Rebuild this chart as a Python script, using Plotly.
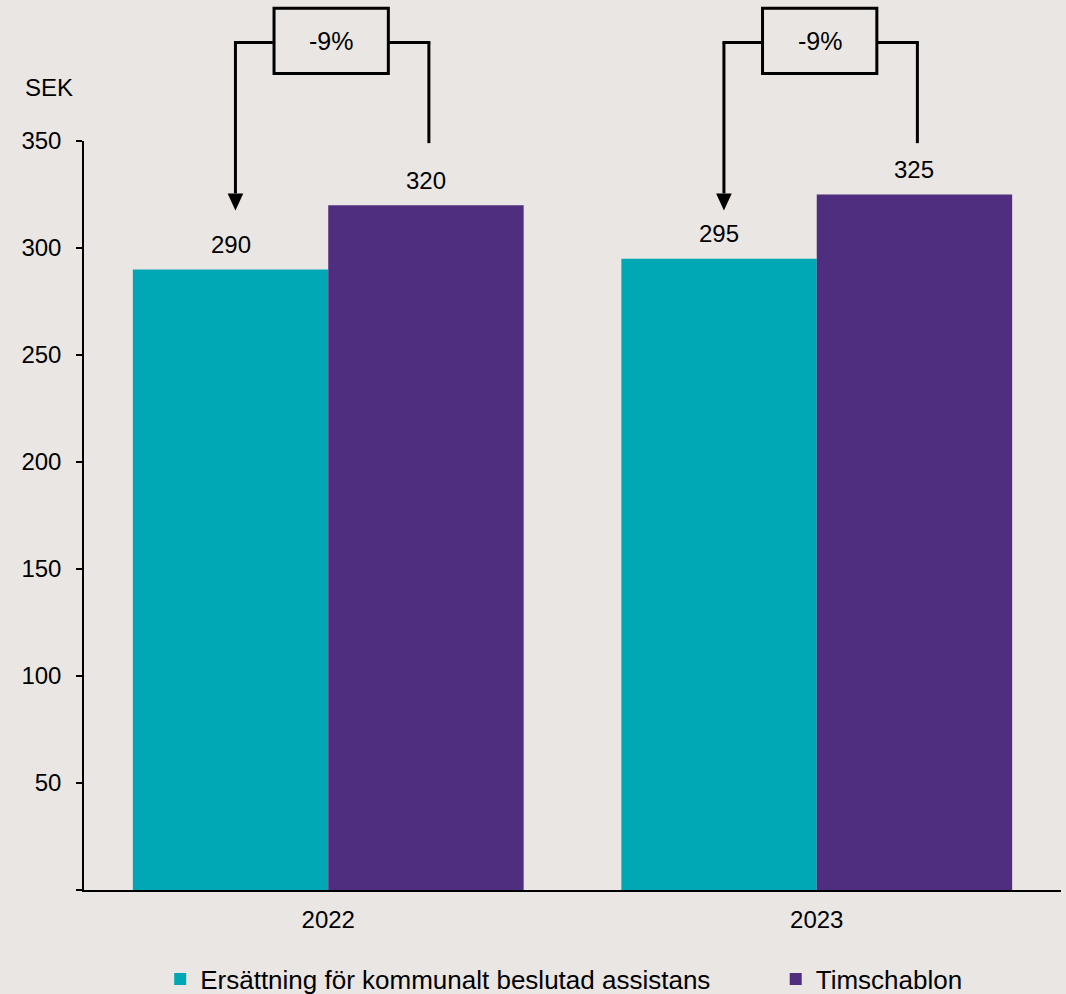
import plotly.graph_objects as go

years = ["2022", "2023"]
series_names = ["Ersättning för kommunalt beslutad assistans", "Timschablon"]
ersattning = [290, 295]
timschablon = [320, 325]
diff_labels = ["-9%", "-9%"]
y_tickvals = [0, 50, 100, 150, 200, 250, 300, 350]
y_ticktext = ["", "50", "100", "150", "200", "250", "300", "350"]

TEAL = "#00A8B5"
PURPLE = "#4F2D7F"
BG = "#EAE6E3"
FONT = "Liberation Sans, Arial, sans-serif"

fig = go.Figure()
fig.add_trace(go.Bar(x=years, y=ersattning, name=series_names[0], marker_color=TEAL,
                     marker_line_width=0, legend="legend"))
fig.add_trace(go.Bar(x=years, y=timschablon, name=series_names[1], marker_color=PURPLE,
                     marker_line_width=0, legend="legend2"))

YMAX = 350.0
annotations = []
shapes = []
for i, yr in enumerate(years):
    # value labels
    for off, val in ((-0.2, ersattning[i]), (0.2, timschablon[i])):
        annotations.append(dict(x=i + off, y=val, xref="x", yref="y", text=str(val),
                                showarrow=False, yanchor="middle", yshift=25,
                                font=dict(size=24, color="black", family=FONT)))
    # bracket (y in data-value terms, converted to paper fraction)
    xl, xr = i - 0.19, i + 0.206
    bl, br = i - 0.111, i + 0.123
    y_line = 396 / YMAX
    y_tip = 317.5 / YMAX
    y_head = 325.5 / YMAX
    y_rbot = 349 / YMAX
    y_btop = 412 / YMAX
    y_bbot = 381.5 / YMAX
    lw = 3
    ln = dict(color="black", width=lw)
    shapes += [
        dict(type="line", xref="x", yref="paper", x0=xl, x1=xl, y0=y_line, y1=y_head, line=ln),
        dict(type="line", xref="x", yref="paper", x0=xl - 0.003, x1=bl, y0=y_line, y1=y_line, line=ln),
        dict(type="line", xref="x", yref="paper", x0=br, x1=xr + 0.003, y0=y_line, y1=y_line, line=ln),
        dict(type="line", xref="x", yref="paper", x0=xr, x1=xr, y0=y_line, y1=y_rbot, line=ln),
        dict(type="rect", xref="x", yref="paper", x0=bl, x1=br, y0=y_bbot, y1=y_btop, line=ln,
             fillcolor="rgba(0,0,0,0)"),
        dict(type="path", xref="x", yref="paper",
             path=f"M {xl - 0.016} {y_head} L {xl + 0.016} {y_head} L {xl} {y_tip} Z",
             fillcolor="black", line=dict(color="black", width=0)),
    ]
    annotations.append(dict(x=(bl + br) / 2, y=(y_bbot + y_btop) / 2, xref="x", yref="paper",
                            text=diff_labels[i], showarrow=False, xanchor="center",
                            yanchor="middle",
                            font=dict(size=25, color="black", family=FONT)))

annotations.append(dict(x=0, y=1.071, xref="paper", yref="paper", text="SEK", showarrow=False,
                        xanchor="right", xshift=-9, yanchor="middle",
                        font=dict(size=24, color="black", family=FONT)))

legend_style = dict(orientation="h", xanchor="left", y=-0.119, yanchor="middle",
                    font=dict(size=26, color="black", family=FONT), bgcolor="rgba(0,0,0,0)")

fig.update_layout(
    width=1066, height=994,
    margin=dict(l=84, r=5, t=141, b=104, autoexpand=False),
    paper_bgcolor=BG, plot_bgcolor=BG,
    barmode="group", bargap=0.2, bargroupgap=0,
    font=dict(family=FONT, size=24, color="black"),
    showlegend=True,
    legend=dict(x=0.078, **legend_style),
    legend2=dict(x=0.708, **legend_style),
    shapes=shapes,
    annotations=annotations,
)
fig.update_xaxes(type="category", showgrid=False, showline=True, linecolor="black", linewidth=1.5,
                 ticks="", ticklabelstandoff=7, tickfont=dict(size=24), zeroline=False)
fig.update_yaxes(range=[0, 350], tickvals=y_tickvals, ticktext=y_ticktext, showgrid=False,
                 showline=True, linecolor="black", linewidth=1.5, ticks="outside", ticklen=6,
                 tickcolor="black", tickwidth=1.5, ticklabelstandoff=10, tickfont=dict(size=24),
                 zeroline=False)

fig.write_html("out.html", config={"displayModeBar": False},
               post_script="document.body.style.margin='0';document.body.style.overflow='hidden';")
